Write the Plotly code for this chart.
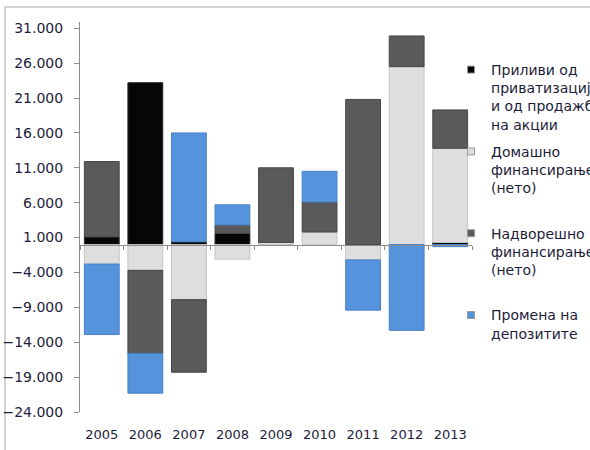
import plotly.graph_objects as go

# Financing of the budget deficit by source, 2005-2013 (million denars)
years = ["2005", "2006", "2007", "2008", "2009", "2010", "2011", "2012", "2013"]
privatization = [1100, 23200, 400, 1600, None, None, None, None, 300]
domestic = [-2800, -3700, -7900, -2100, 300, 1800, -2200, 25500, 13500]
external = [10800, -11900, -10400, 1200, 10700, 4300, 20800, 4400, 5500]
deposits = [-10100, -5700, 15600, 2900, None, 4400, -7200, -12300, -300]

series_names = [
    "Приливи од<br>приватизација<br>и од продажба<br>на акции",
    "Домашно<br>финансирање<br>(нето)<br> ",
    "Надворешно<br>финансирање<br>(нето)<br> ",
    "Промена на<br>депозитите",
]
series_values = [privatization, domestic, external, deposits]
fill_colors = ["#060606", "#dedede", "#5a5a5a", "#5593dc"]
edge_colors = ["#2a2a2a", "#c4c4c4", "#464646", "#4a82c6"]

y_ticks = [31000, 26000, 21000, 16000, 11000, 6000, 1000, -4000, -9000, -14000, -19000, -24000]

TEXT = "#1c1c3a"
AXIS = "#8c8c8c"
FONT = "DejaVu Sans, Verdana, sans-serif"

fig = go.Figure()

for i, (name, vals) in enumerate(zip(series_names, series_values)):
    fig.add_trace(go.Bar(
        x=years, y=vals, name=name, legendgroup=f"g{i}", showlegend=False,
        marker=dict(color=fill_colors[i], line=dict(color=edge_colors[i], width=1)),
        hoverinfo="x+y",
    ))
    # small square swatch for the legend
    fig.add_trace(go.Scatter(
        x=[None], y=[None], mode="markers", name=name, legendgroup=f"g{i}",
        marker=dict(symbol="square", size=7, color=fill_colors[i],
                    line=dict(color="#9a9a9a", width=1)),
    ))

# zero line with separators between the year groups
fig.add_trace(go.Scatter(x=[None], y=[None], xaxis="x2", showlegend=False))

fig.update_layout(
    width=590, height=450,
    margin=dict(l=80, r=118, t=22, b=38, autoexpand=False),
    paper_bgcolor="white", plot_bgcolor="white",
    barmode="relative", bargap=0.2,
    separators=",.",
    font=dict(family=FONT, size=13, color=TEXT),
    showlegend=True,
    legend=dict(
        xref="paper", yref="paper", x=(451 - 80) / 392, y=(412 - 54) / 390,
        xanchor="left", yanchor="top",
        font=dict(family=FONT, size=14, color=TEXT),
        valign="top", tracegroupgap=6, itemwidth=30,
        bgcolor="rgba(0,0,0,0)",
    ),
    xaxis=dict(
        type="category", showline=False, showgrid=False, zeroline=False,
        ticks="outside", ticklen=10, tickcolor="rgba(0,0,0,0)",
        tickfont=dict(family=FONT, size=13, color=TEXT),
        range=[-0.5, 8.5],
    ),
    xaxis2=dict(
        overlaying="x", anchor="free", position=24000 / 55900,
        range=[-0.5, 8.5], showgrid=False, zeroline=False,
        showline=True, linecolor=AXIS, linewidth=1,
        tickmode="array", tickvals=[k - 0.5 for k in range(len(years) + 1)],
        ticks="outside", ticklen=4, tickcolor=AXIS, showticklabels=False,
    ),
    yaxis=dict(
        range=[-24000, 31900], tickmode="array", tickvals=y_ticks,
        tickformat=",d", showgrid=False, zeroline=False,
        showline=True, linecolor=AXIS, linewidth=1,
        ticks="outside", ticklen=5, tickcolor=AXIS, ticklabelstandoff=8,
        tickfont=dict(family=FONT, size=14, color=TEXT),
    ),
    shapes=[dict(
        type="rect", xref="paper", yref="paper",
        x0=-75 / 392, x1=1.8, y0=-0.6, y1=1 + 15 / 390,
        line=dict(color="#a6a6a6", width=1), fillcolor="rgba(0,0,0,0)",
        layer="below",
    )],
)

fig.write_html("out.html")
